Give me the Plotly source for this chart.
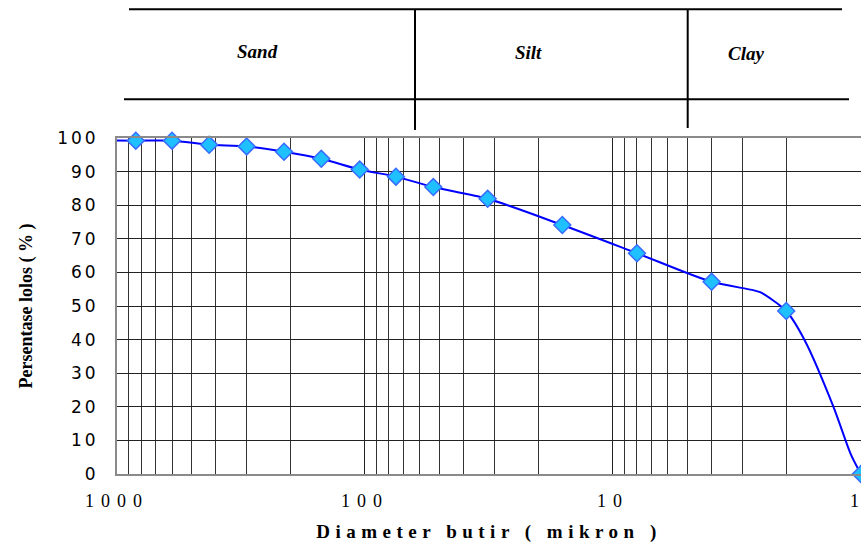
import math
import plotly.graph_objects as go

# Measured sieve / hydrometer points (diameter in micron, percent passing)
diam_pts = [840, 600, 425, 300, 212, 150, 105, 75, 53, 32, 16, 8, 4, 2, 1]
pass_pts = [99.2, 99.2, 98.0, 97.5, 95.9, 93.8, 90.6, 88.5, 85.4, 81.9, 74.1, 65.7, 57.2, 48.5, 0.0]

# Smoothed grading curve
diam_curve = [1074, 840, 600, 425, 300, 212, 150, 105, 75, 53, 32, 16, 8, 4, 2.75, 2.55, 2, 1.68, 1.29, 1.10, 1]
pass_curve = [99.3, 99.2, 99.2, 98.0, 97.5, 95.9, 93.8, 90.6, 88.5, 85.4, 81.9, 74.1, 65.7, 57.2, 54.8, 54.1, 48.5, 39.6, 20.0, 6.0, 0.0]

x_ticks = [1000, 100, 10, 1]
x_ticktext = ["1000", "100", "10", "1"]
y_ticks = [0, 10, 20, 30, 40, 50, 60, 70, 80, 90, 100]

classes = ["Sand", "Silt", "Clay"]

def spaced(s, px):
    return '<span style="letter-spacing:%spx">%s</span>' % (px, s)

# last label sits on the right edge of the page; extra trailing spacing keeps it visible
x_tick_spacing = [7, 7, 7, 13]

fig = go.Figure()
fig.add_trace(go.Scatter(
    x=diam_curve, y=pass_curve, mode="lines",
    line=dict(color="#0000FF", width=2, shape="spline", smoothing=0.8),
    hoverinfo="skip", showlegend=False,
))
fig.add_trace(go.Scatter(
    x=diam_pts, y=pass_pts, mode="markers",
    marker=dict(symbol="diamond", size=13, color="#1EC0FF",
                line=dict(color="#3A6BFF", width=1.5)),
    cliponaxis=False, showlegend=False,
))

W, H = 861, 545
L, R, T, B = 117, 0, 138, 71

fig.update_layout(
    width=W, height=H,
    margin=dict(l=L, r=R, t=T, b=B, autoexpand=False),
    paper_bgcolor="white", plot_bgcolor="white",
    showlegend=False,
    xaxis=dict(
        type="log", range=[math.log10(1000), math.log10(0.999)],
        tickvals=x_ticks,
        ticktext=[spaced(t, s) for t, s in zip(x_ticktext, x_tick_spacing)],
        ticks="outside", ticklen=9, tickcolor="rgba(0,0,0,0)",
        tickfont=dict(family="Liberation Serif", size=18, color="black"),
        ticklabeloverflow="allow",
        showgrid=True, gridcolor="#222222", gridwidth=1,
        minor=dict(dtick="D1", showgrid=True, gridcolor="#333333", gridwidth=1, ticks=""),
        showline=True, linecolor="#8a8a8a", linewidth=2, mirror=True,
        zeroline=False, automargin=False,
        title=dict(text=spaced("Diameter butir ( mikron )", 5.5),
                   font=dict(family="Liberation Serif", size=19, color="black", weight="bold"),
                   standoff=15),
    ),
    yaxis=dict(
        range=[0, 100], tickvals=y_ticks,
        ticktext=[spaced(str(v), 3) for v in y_ticks],
        ticks="outside", ticklen=13, tickcolor="rgba(0,0,0,0)",
        tickfont=dict(family="DejaVu Sans", size=17, color="black"),
        showgrid=True, gridcolor="#222222", gridwidth=1,
        showline=True, linecolor="#8a8a8a", linewidth=2, mirror=True,
        zeroline=False, automargin=False,
        title=dict(text="Persentase lolos ( % )",
                   font=dict(family="Liberation Serif", size=18, color="black", weight="bold"),
                   standoff=20),
    ),
)

def px_to_paper(px, py):
    return (px - L) / (W - L - R), (H - B - py) / (H - T - B)

# Soil classification table above the plot (positions in window pixels)
lines_px = [
    ((129, 9.3), (842, 9.3)),
    ((124, 99.3), (849, 99.3)),
    ((415, 9.3), (415, 130)),
    ((687.7, 9.3), (687.7, 128)),
]
for (a, b) in lines_px:
    x0, y0 = px_to_paper(*a)
    x1, y1 = px_to_paper(*b)
    fig.add_shape(type="line", xref="paper", yref="paper",
                  x0=x0, y0=y0, x1=x1, y1=y1,
                  line=dict(color="black", width=2))

label_pos = [(257.7, 51), (528, 52), (746, 53)]
for name, (px, py) in zip(classes, label_pos):
    xx, yy = px_to_paper(px, py)
    fig.add_annotation(x=xx, y=yy, xref="paper", yref="paper", text=name,
                       showarrow=False, xanchor="center", yanchor="middle",
                       font=dict(family="Liberation Serif", size=19, color="black",
                                 weight="bold", style="italic"))

fig.write_html(
    "out.html",
    config={"displayModeBar": False},
    post_script="document.body.style.margin='0px';document.body.style.overflow='hidden';",
)
